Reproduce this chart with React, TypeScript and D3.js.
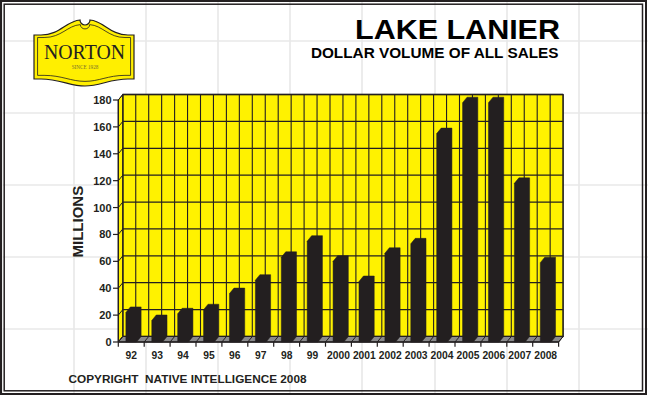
import React from "react";
import * as d3 from "d3";

const years = ["92", "93", "94", "95", "96", "97", "98", "99", "2000", "2001", "2002", "2003", "2004", "2005", "2006", "2007", "2008"];
const volumes = [22, 16, 21, 24, 36, 46, 63, 75, 60, 45, 66, 73, 155, 178, 178, 118, 59];
const yTicks = [0, 20, 40, 60, 80, 100, 120, 140, 160, 180];
const bgGridX = [2, 74, 146, 218, 290, 362, 435, 507, 579];
const bgGridY = [41, 113, 185, 257, 329];

const W = 648;
const H = 395;
const DX = 4.5;
const DY = -5.5;
const YELLOW = "#FFF200";
const DARK = "#231F20";
const FONT = "Arial, 'Liberation Sans', sans-serif";

export default function App() {
  const x = d3.scaleBand<string>().domain(years).range([118.3, 558.6]).padding(0);
  const y = d3.scaleLinear().domain([0, 180]).range([342, 100]);
  const x0 = x.range()[0];
  const xR = x.range()[1];
  const y0 = y(0);
  const yTop = y(180);
  const bw = x.bandwidth() * 0.415;
  const halfSteps = d3.range(0, years.length * 2 + 1);
  const boundaries = d3.range(0, years.length + 1);

  const logoPath =
    "M34,35 L41,35 C60,35 66,21 80,20 A5,5 0 1 0 90,20 C104,21 110,35 128,35 L134,35 L134,79 L128,79 C110,79 100,86 85,86 C70,86 60,79 41,79 L34,79 Z";

  return (
    <svg width={W} height={H} style={{ position: "fixed", left: 0, top: 0, background: "#fff" }}>
      {/* background light grid */}
      {bgGridX.map((gx) => (
        <line key={"bx" + gx} x1={gx} x2={gx} y1={0} y2={H} stroke="#E8E8E8" strokeWidth={1.6} />
      ))}
      {bgGridY.map((gy) => (
        <line key={"by" + gy} x1={0} x2={W} y1={gy} y2={gy} stroke="#E8E8E8" strokeWidth={1.6} />
      ))}

      {/* frame */}
      <rect x={1} y={1} width={645} height={393} fill="none" stroke={DARK} strokeWidth={2} />
      <rect x={4.2} y={4.2} width={638.3} height={386.6} fill="none" stroke={DARK} strokeWidth={1.5} />

      {/* logo */}
      <path d={logoPath} fill="#FFEF00" stroke={DARK} strokeWidth={1.2} />
      <path
        d={logoPath}
        fill="none"
        stroke={DARK}
        strokeWidth={0.9}
        transform="translate(85,53) scale(0.93,0.86) translate(-85,-53)"
      />
      <text x={84.5} y={58.7} textAnchor="middle" fontFamily="'Liberation Serif', 'DejaVu Serif', serif" fontSize={20.5} fill={DARK} textLength={81} lengthAdjust="spacingAndGlyphs">
        NORTON
      </text>
      <text x={85} y={69.3} textAnchor="middle" fontFamily="'Liberation Serif', serif" fontSize={5.2} fill="#7A7030">
        SINCE 1928
      </text>

      {/* titles */}
      <text x={560} y={38.5} textAnchor="end" fontFamily={FONT} fontWeight="bold" fontSize={28} fill="#000" textLength={205} lengthAdjust="spacingAndGlyphs">
        LAKE LANIER
      </text>
      <text x={558.5} y={58.3} textAnchor="end" fontFamily={FONT} fontWeight="bold" fontSize={14} fill="#000" textLength={247.6} lengthAdjust="spacingAndGlyphs">
        DOLLAR VOLUME OF ALL SALES
      </text>

      {/* back wall */}
      <rect x={x0 + DX} y={yTop + DY} width={xR - x0} height={y0 - yTop} fill={YELLOW} stroke={DARK} strokeWidth={1.2} />
      {/* left side wall */}
      <polygon
        points={`${x0},${y0} ${x0},${yTop} ${x0 + DX},${yTop + DY} ${x0 + DX},${y0 + DY}`}
        fill={YELLOW}
        stroke={DARK}
        strokeWidth={1}
      />
      {/* vertical wall gridlines */}
      {halfSteps.map((k) => {
        const gx = x0 + DX + (k * x.bandwidth()) / 2;
        return <line key={"vg" + k} x1={gx} x2={gx} y1={yTop + DY} y2={y0 + DY} stroke={DARK} strokeWidth={1.1} />;
      })}
      {/* horizontal wall gridlines */}
      {yTicks.map((t) => (
        <g key={"hg" + t}>
          <line x1={x0 + DX} x2={xR + DX} y1={y(t) + DY} y2={y(t) + DY} stroke={DARK} strokeWidth={1.3} />
          <line x1={x0} x2={x0 + DX} y1={y(t)} y2={y(t) + DY} stroke={DARK} strokeWidth={1} />
        </g>
      ))}

      {/* floor */}
      <polygon
        points={`${x0},${y0} ${xR},${y0} ${xR + DX},${y0 + DY} ${x0 + DX},${y0 + DY}`}
        fill="#8A8A8C"
        stroke={DARK}
        strokeWidth={1}
      />
      {boundaries.map((i) => {
        const bx = x0 + i * x.bandwidth();
        return <line key={"fd" + i} x1={bx} x2={bx + DX} y1={y0} y2={y0 + DY} stroke={DARK} strokeWidth={1} />;
      })}

      {/* bars */}
      {years.map((yr, i) => {
        const cx = (x(yr) as number) + x.bandwidth() / 2;
        const xl = cx - bw / 2;
        const xr = cx + bw / 2;
        const yv = y(volumes[i]);
        const pts = `${xl},${y0} ${xl},${yv} ${xl + DX},${yv + DY} ${xr + DX},${yv + DY} ${xr + DX},${y0 + DY} ${xr},${y0}`;
        return <polygon key={"bar" + yr} points={pts} fill={DARK} stroke={DARK} strokeWidth={0.5} />;
      })}

      {/* axes */}
      <line x1={x0} x2={x0} y1={y0} y2={yTop} stroke={DARK} strokeWidth={1.3} />
      <line x1={x0} x2={xR} y1={y0} y2={y0} stroke={DARK} strokeWidth={1.3} />
      {yTicks.map((t) => (
        <g key={"yt" + t}>
          <line x1={113} x2={x0} y1={y(t)} y2={y(t)} stroke={DARK} strokeWidth={1.2} />
          <text x={111.5} y={y(t)} dy="0.36em" textAnchor="end" fontFamily={FONT} fontWeight="bold" fontSize={11} fill={DARK}>
            {t}
          </text>
        </g>
      ))}
      {boundaries.map((i) => {
        const bx = x0 + i * x.bandwidth();
        return <line key={"xt" + i} x1={bx} x2={bx} y1={y0} y2={y0 + 4.7} stroke={DARK} strokeWidth={1.2} />;
      })}
      {years.map((yr) => (
        <text
          key={"xl" + yr}
          x={(x(yr) as number) + x.bandwidth() / 2}
          y={359}
          textAnchor="middle"
          fontFamily={FONT}
          fontWeight="bold"
          fontSize={10.3}
          fill={DARK}
        >
          {yr}
        </text>
      ))}

      <text
        transform="translate(82.6,221.7) rotate(-90)"
        textAnchor="middle"
        fontFamily={FONT}
        fontWeight="bold"
        fontSize={15}
        fill={DARK}
      >
        MILLIONS
      </text>

      <text x={68.5} y={382.7} fontFamily={FONT} fontWeight="bold" fontSize={11.5} fill={DARK} textLength={238} lengthAdjust="spacingAndGlyphs" style={{ whiteSpace: "pre" }}>
        {"COPYRIGHT  NATIVE INTELLIGENCE 2008"}
      </text>
    </svg>
  );
}
